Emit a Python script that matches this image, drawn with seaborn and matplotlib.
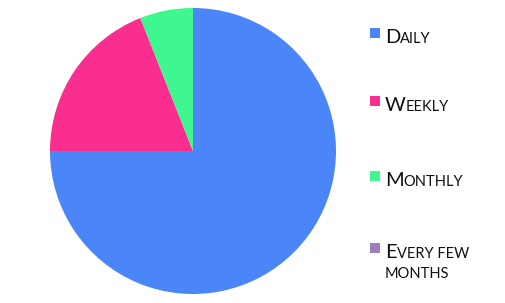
import matplotlib
matplotlib.use("Agg")
import matplotlib.pyplot as plt
import seaborn as sns
from matplotlib.patches import Rectangle

categories = ["Daily", "Weekly", "Monthly", "Every few months"]
values = [75, 19, 6, 0]
colors = ["#4A86F8", "#F92E8E", "#3FF78F", "#9C80BC"]
# small-caps label pieces: (big initial, rest) per legend line
label_lines = [
    [("D", "AILY")],
    [("W", "EEKLY")],
    [("M", "ONTHLY")],
    [("E", "VERY FEW"), ("", "MONTHS")],
]

sns.set_theme(style="white")
plt.rcParams['font.family'] = ['Lato', 'DejaVu Sans']

W, H = 506, 303
fig = plt.figure(figsize=(W / 100, H / 100), dpi=100)
fig.patch.set_facecolor("white")

cx, cy, r = 193, 151, 143
ax = fig.add_axes([(cx - r) / W, (H - cy - r) / H, 2 * r / W, 2 * r / H])
ax.pie(values, colors=colors, startangle=90, counterclock=False,
       radius=1.0, wedgeprops=dict(linewidth=0))
ax.set_xlim(-1, 1)
ax.set_ylim(-1, 1)
ax.set_aspect("auto")
ax.axis("off")

# legend drawn manually (small caps style)
baselines = [43, 111, 186, 258]
line_gap = 20
txt_kw = dict(color="#111111", va="baseline", ha="left", fontweight="normal")
for i, lines in enumerate(label_lines):
    base = baselines[i]
    fig.patches.append(Rectangle((370, H - base + 5), 10, 10, transform=None,
                                 facecolor=colors[i], edgecolor="none"))
    for j, (big, rest) in enumerate(lines):
        by = H - (base + j * line_gap)
        if big:
            t = fig.text(385, by, big, fontsize=14.5, transform=None, **txt_kw)
            ax.annotate(rest, xy=(1, by), xycoords=(t, "figure pixels"),
                        fontsize=10.5, annotation_clip=False, **txt_kw)
        else:
            fig.text(385, by, rest, fontsize=10.5, transform=None, **txt_kw)

fig.savefig("out.png", dpi=100, facecolor="white")
